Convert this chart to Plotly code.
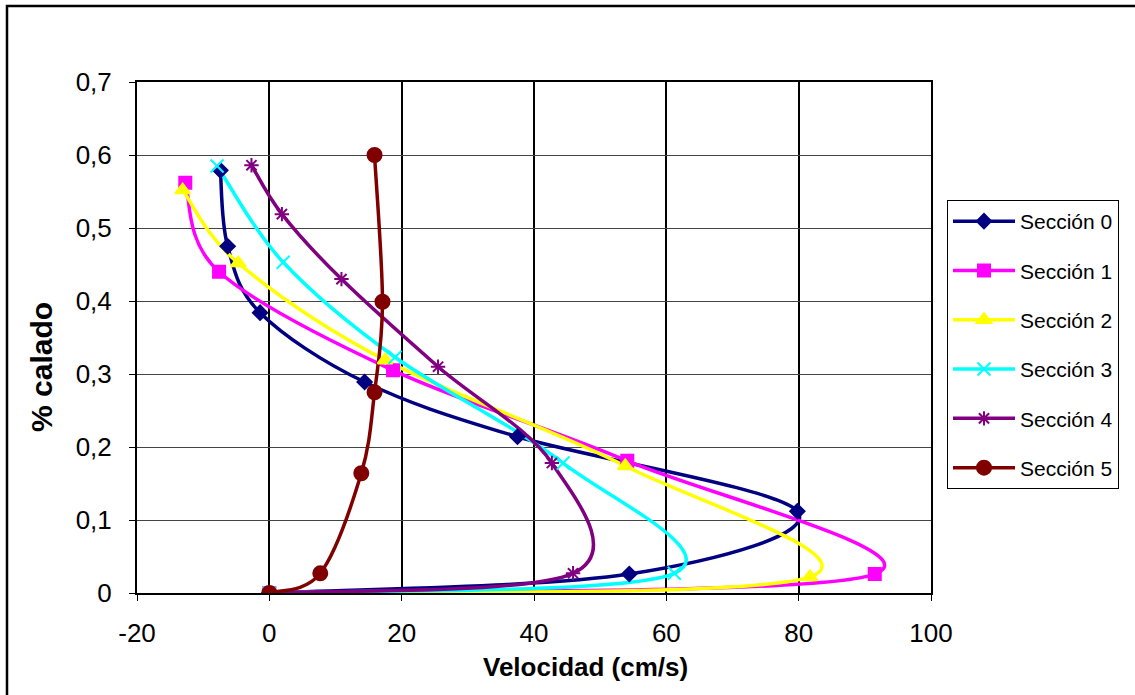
import plotly.graph_objects as go

# Data (velocity cm/s vs % calado)
names = ["Sección 0", "Sección 1", "Sección 2", "Sección 3", "Sección 4", "Sección 5"]

s0_x = [0.0, 54.4, 79.8, 37.5, 14.4, -1.4, -6.3, -7.4]
s0_y = [0.0, 0.026, 0.112, 0.214, 0.289, 0.384, 0.475, 0.579]

s1_x = [0.0, 91.5, 54.1, 18.7, -7.6, -12.7]
s1_y = [0.0, 0.026, 0.181, 0.305, 0.440, 0.562]

s2_x = [0.0, 81.7, 53.8, 17.5, -4.7, -13.1]
s2_y = [0.0, 0.022, 0.174, 0.319, 0.452, 0.552]

s3_x = [0.0, 61.2, 44.4, 19.0, 2.1, -7.9]
s3_y = [0.0, 0.027, 0.178, 0.323, 0.453, 0.585]

s4_x = [0.0, 45.9, 42.7, 25.5, 10.9, 1.9, -2.7]
s4_y = [0.0, 0.027, 0.178, 0.310, 0.430, 0.519, 0.586]

s5_x = [0.0, 7.7, 13.9, 15.9, 17.1, 15.9]
s5_y = [0.0, 0.027, 0.164, 0.275, 0.399, 0.600]

x_ticks = [-20, 0, 20, 40, 60, 80, 100]
x_labels = ["-20", "0", "20", "40", "60", "80", "100"]
y_ticks = [0, 0.1, 0.2, 0.3, 0.4, 0.5, 0.6, 0.7]

colors = ["#000080", "#FF00FF", "#FFFF00", "#00FFFF", "#800080", "#800000"]
symbols = ["diamond", "square", "triangle-up", "x-thin-open", "asterisk-open", "circle"]
msizes = [11, 12, 13, 13, 12, 14]

series = [(s0_x, s0_y), (s1_x, s1_y), (s2_x, s2_y), (s3_x, s3_y), (s4_x, s4_y), (s5_x, s5_y)]


def smooth_path(xs, ys):
    """Excel-style smoothed line: cubic Bezier segments whose control points
    come from neighbouring data points (tension 1/6)."""
    n = len(xs)
    parts = [f"M{xs[0]},{ys[0]}"]
    for i in range(n - 1):
        ip = i - 1 if i > 0 else i
        inn = i + 2 if i + 2 < n else i + 1
        c1x = xs[i] + (xs[i + 1] - xs[ip]) / 6.0
        c1y = ys[i] + (ys[i + 1] - ys[ip]) / 6.0
        c2x = xs[i + 1] - (xs[inn] - xs[i]) / 6.0
        c2y = ys[i + 1] - (ys[inn] - ys[i]) / 6.0
        parts.append(f"C{c1x},{c1y} {c2x},{c2y} {xs[i + 1]},{ys[i + 1]}")
    return " ".join(parts)


fig = go.Figure()
shapes = []
for i, (xs, ys) in enumerate(series):
    shapes.append(dict(type="path", xref="x", yref="y", path=smooth_path(xs, ys),
                       line=dict(color=colors[i], width=3.5), layer="between"))
    mk = dict(color=colors[i], symbol=symbols[i], size=msizes[i],
              line=dict(color=colors[i], width=2))
    # data points
    fig.add_trace(go.Scatter(x=xs, y=ys, name=names[i], mode="markers", marker=mk,
                             showlegend=False, legendgroup=str(i)))
    # legend entry (line + marker)
    fig.add_trace(go.Scatter(x=[None], y=[None], name=names[i], mode="lines+markers",
                             line=dict(color=colors[i], width=3.5), marker=mk,
                             legendgroup=str(i), showlegend=True))

FONT = "Liberation Sans, Arial, sans-serif"
L, R, T, B = 137, 204, 82, 102
W, H = 1135, 695
pw = W - L - R
ph = H - T - B


def px2x(p):
    return (p - L) / pw


def py2y(p):
    return (H - B - p) / ph


shapes.append(dict(type="rect", xref="paper", yref="paper",
                   x0=px2x(7), x1=px2x(1145), y0=py2y(705), y1=py2y(6),
                   line=dict(color="black", width=2.5), fillcolor="rgba(0,0,0,0)", layer="below"))

fig.update_layout(
    width=W, height=H,
    margin=dict(l=L, r=R, t=T, b=B, autoexpand=False),
    paper_bgcolor="white", plot_bgcolor="white",
    separators=",.",
    font=dict(family=FONT, size=20, color="black"),
    showlegend=True,
    legend=dict(
        x=px2x(947), y=py2y(200), xanchor="left", yanchor="top",
        bordercolor="black", borderwidth=1, bgcolor="white",
        font=dict(family=FONT, size=21, color="black"),
        tracegroupgap=19, itemwidth=62,
    ),
    xaxis=dict(
        range=[-20, 100], tickvals=x_ticks, ticktext=x_labels,
        showgrid=True, gridcolor="black", gridwidth=1.5,
        zeroline=False, showline=True, linecolor="black", linewidth=2, mirror=True,
        ticks="outside", ticklen=6, tickcolor="black", tickwidth=1,
        tickfont=dict(family=FONT, size=26), ticklabelstandoff=10,
    ),
    yaxis=dict(
        range=[0, 0.7], tickvals=y_ticks, showgrid=True, gridcolor="#444444", gridwidth=1,
        zeroline=False, showline=True, linecolor="black", linewidth=2, mirror=True,
        ticks="outside", ticklen=6, tickcolor="black", tickwidth=1,
        tickfont=dict(family=FONT, size=26), ticklabelstandoff=12,
    ),
    annotations=[
        dict(text="<b>Velocidad (cm/s)</b>", xref="paper", yref="paper",
             x=px2x(585), y=py2y(667), showarrow=False, xanchor="center", yanchor="middle",
             font=dict(family=FONT, size=26, color="black")),
        dict(text="<b>% calado</b>", xref="paper", yref="paper", textangle=-90,
             x=px2x(41), y=py2y(367), showarrow=False, xanchor="center", yanchor="middle",
             font=dict(family=FONT, size=30, color="black")),
    ],
    shapes=shapes,
)

fig.write_html("out.html", config={"displayModeBar": False},
               post_script="document.body.style.margin='0';")
